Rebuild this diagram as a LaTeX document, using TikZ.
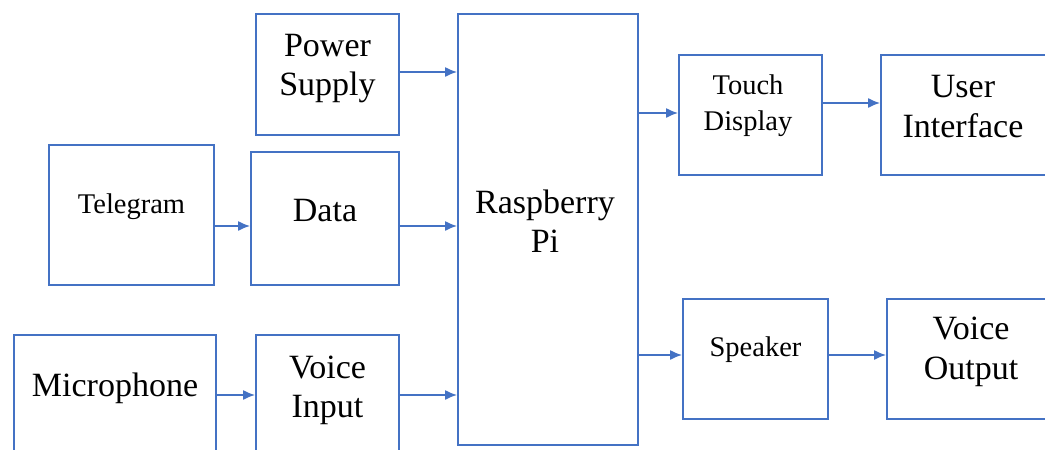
\documentclass[tikz,border=0pt]{standalone}
\usepackage{fontspec}
\setmainfont{Liberation Serif}
\usepackage{tikz}
\usetikzlibrary{arrows.meta}

\definecolor{boxblue}{HTML}{4472C4}

\tikzset{
	block/.style={shape=rectangle, draw=boxblue, line width=1.6pt, inner sep=0pt},
	bigtxt/.style={align=center, inner sep=0pt, font=\fontsize{34}{39.5}\selectfont},
	smalltxt/.style={align=center, inner sep=0pt, font=\fontsize{28.5}{35.5}\selectfont},
	arr/.style={draw=boxblue, line width=2pt, -{Latex[length=12pt,width=10pt]}}
}

\begin{document}
\begin{tikzpicture}[x=1pt, y=-1pt]
				\useasboundingbox (0,0) rectangle (1045,450);
				\clip (0,0) rectangle (1045,450);
				% Blocks:
				\node[block, minimum width=143, minimum height=121](power) at (327.5, 74.5){};
				\node[block, minimum width=165, minimum height=140](telegram) at (131.5, 215){};
				\node[block, minimum width=148, minimum height=133](data) at (325, 218.5){};
				\node[block, minimum width=202, minimum height=145](mic) at (115, 407.5){};
				\node[block, minimum width=143, minimum height=145](voicein) at (327.5, 407.5){};
				\node[block, minimum width=180, minimum height=431](rpi) at (548, 229.5){};
				\node[block, minimum width=143, minimum height=120](touch) at (750.5, 115){};
				\node[block, minimum width=199, minimum height=120](ui) at (980.5, 115){};
				\node[block, minimum width=145, minimum height=120](speaker) at (755.5, 359){};
				\node[block, minimum width=193, minimum height=120](voiceout) at (983.5, 359){};
				% Texts:
				\node[bigtxt](powerT) at ([yshift=6]power.center){Power\\Supply};
				\node[smalltxt](telegramT) at ([yshift=8]telegram.center){Telegram};
				\node[bigtxt](dataT) at ([yshift=8]data.center){Data};
				\node[bigtxt](micT) at ([yshift=19]mic.center){Microphone};
				\node[bigtxt](voiceinT) at ([yshift=17]voicein.center){Voice\\Input};
				\node[bigtxt](rpiT) at ([xshift=-3, yshift=8.5]rpi.center){Raspberry\\Pi};
				\node[smalltxt](touchT) at ([xshift=-2.5, yshift=9.5]touch.center){Touch\\Display};
				\node[bigtxt](uiT) at ([xshift=-17.5, yshift=8.5]ui.center){User\\Interface};
				\node[smalltxt](speakerT) at ([yshift=9]speaker.center){Speaker};
				\node[bigtxt](voiceoutT) at ([xshift=-12.5, yshift=7]voiceout.center){Voice\\Output};
				% Arrows:
				\draw[arr] ([yshift=2.5]power.east) -- ([yshift=2.5]power.east -| rpi.west);
				\draw[arr] ([yshift=-11]telegram.east) -- ([yshift=-11]telegram.east -| data.west);
				\draw[arr] ([yshift=-7.5]data.east) -- ([yshift=-7.5]data.east -| rpi.west);
				\draw[arr] ([yshift=12.5]mic.east) -- ([yshift=12.5]mic.east -| voicein.west);
				\draw[arr] ([yshift=12.5]voicein.east) -- ([yshift=12.5]voicein.east -| rpi.west);
				\draw[arr] ([yshift=2]touch.west -| rpi.east) -- ([yshift=2]touch.west);
				\draw[arr] ([yshift=12]touch.east) -- ([yshift=12]touch.east -| ui.west);
				\draw[arr] ([yshift=4]speaker.west -| rpi.east) -- ([yshift=4]speaker.west);
				\draw[arr] ([yshift=4]speaker.east) -- ([yshift=4]speaker.east -| voiceout.west);
\end{tikzpicture}
\end{document}
